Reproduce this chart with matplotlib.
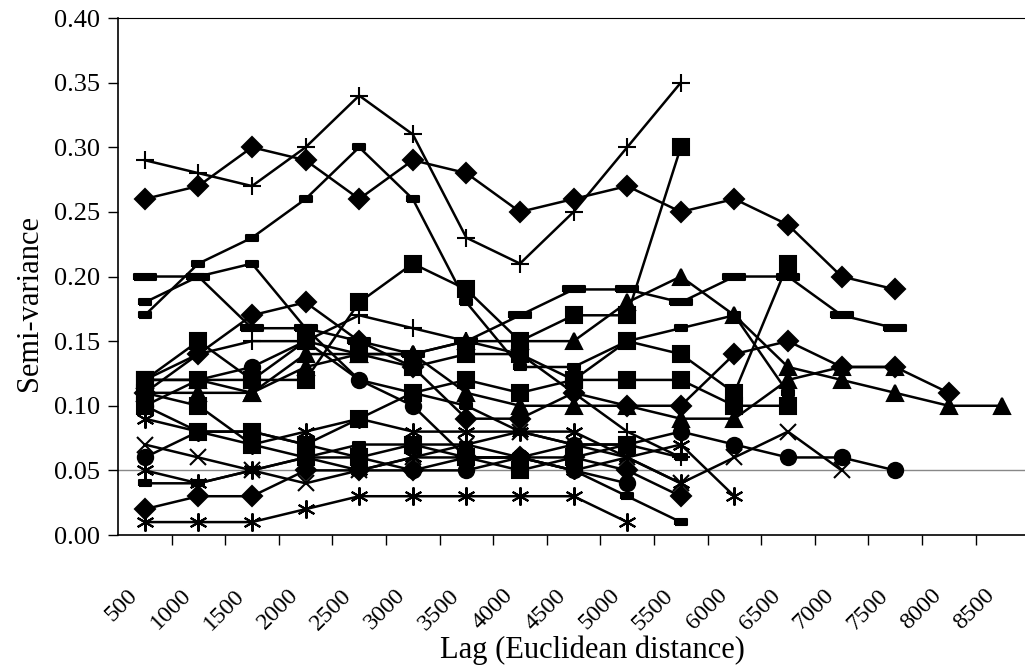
import numpy as np
import matplotlib
matplotlib.use("Agg")
import matplotlib.pyplot as plt
import matplotlib.transforms as mtransforms
from matplotlib.ticker import FixedLocator, FormatStrFormatter

plt.rcParams['font.family'] = ['Liberation Serif', 'DejaVu Serif']

lags = [500, 1000, 1500, 2000, 2500, 3000, 3500, 4000, 4500,
        5000, 5500, 6000, 6500, 7000, 7500, 8000, 8500]

# semi-variance per lag class, one list per sample set
plus_a = [0.29, 0.28, 0.27, 0.30, 0.34, 0.31, 0.23, 0.21, 0.25, 0.30, 0.35]
plus_b = [0.12, 0.14, 0.15, 0.15, 0.17, 0.16, 0.15, 0.14, 0.11, 0.08, 0.06]
diamond_a = [0.26, 0.27, 0.30, 0.29, 0.26, 0.29, 0.28, 0.25, 0.26, 0.27, 0.25,
             0.26, 0.24, 0.20, 0.19]
diamond_b = [0.02, 0.03, 0.03, 0.05, 0.05, 0.05, 0.06, 0.06, 0.06, 0.05, 0.03]
diamond_c = [0.11, 0.14, 0.17, 0.18, 0.15, 0.13, 0.09, 0.09, 0.11, 0.10, 0.10,
             0.14, 0.15, 0.13, 0.13, 0.11]
longdash_a = [0.20, 0.20, 0.16, 0.16, 0.15, 0.14, 0.15, 0.17, 0.19, 0.19, 0.18,
              0.20, 0.20, 0.17, 0.16]
dash_a = [0.17, 0.21, 0.23, 0.26, 0.30, 0.26, 0.18, 0.13, 0.13, 0.15, 0.16,
          0.17, 0.11]
dash_b = [0.18, 0.20, 0.21, 0.16, 0.12, 0.11, 0.10, 0.08, 0.07, 0.07, 0.06]
dash_c = [0.04, 0.04, 0.05, 0.06, 0.07, 0.07, 0.07, 0.06, 0.05, 0.03, 0.01]
square_a = [0.12, 0.12, 0.12, 0.12, 0.18, 0.21, 0.19, 0.15, 0.17, 0.17, 0.30]
square_b = [0.12, 0.15, 0.12, 0.15, 0.14, 0.13, 0.14, 0.14, 0.12, 0.15, 0.14,
            0.11, 0.21]
square_c = [0.10, 0.08, 0.08, 0.07, 0.09, 0.11, 0.12, 0.11, 0.12, 0.12, 0.12,
            0.10, 0.10]
square_d = [0.11, 0.10, 0.07, 0.06, 0.06, 0.07, 0.06, 0.05, 0.06, 0.07]
triangle_a = [0.11, 0.11, 0.11, 0.14, 0.14, 0.14, 0.15, 0.15, 0.15, 0.18, 0.20,
              0.17, 0.13, 0.12, 0.11, 0.10, 0.10]
triangle_b = [0.12, 0.12, 0.11, 0.13, 0.14, 0.14, 0.11, 0.10, 0.10, 0.10, 0.09,
              0.09, 0.12, 0.13, 0.13]
circle_a = [0.06, 0.08, 0.08, 0.07, 0.06, 0.05, 0.05, 0.06, 0.07, 0.07, 0.08,
            0.07, 0.06, 0.06, 0.05]
circle_b = [0.10, 0.12, 0.13, 0.15, 0.12, 0.10, 0.06, 0.06, 0.05, 0.04]
cross_a = [0.07, 0.06, 0.05, 0.04, 0.05, 0.06, 0.07, 0.08, 0.07, 0.06, 0.04,
           0.06, 0.08, 0.05]
star_a = [0.01, 0.01, 0.01, 0.02, 0.03, 0.03, 0.03, 0.03, 0.03, 0.01]
star_b = [0.09, 0.08, 0.07, 0.08, 0.09, 0.08, 0.08, 0.08, 0.08, 0.06, 0.07, 0.03]
star_c = [0.05, 0.04, 0.05, 0.06, 0.05, 0.06, 0.06, 0.06, 0.05, 0.06, 0.04]

short_bar = [(-1, -0.45), (1, -0.45), (1, 0.45), (-1, 0.45), (-1, -0.45)]
long_bar = [(-1, -0.25), (1, -0.25), (1, 0.25), (-1, 0.25), (-1, -0.25)]
asterisk = (6, 2, 0)

series = [
    (plus_a, '+', 13), (plus_b, '+', 13),
    (diamond_a, 'D', 10), (diamond_b, 'D', 10), (diamond_c, 'D', 10),
    (longdash_a, long_bar, 16), (dash_a, short_bar, 9),
    (dash_b, short_bar, 9), (dash_c, short_bar, 9),
    (square_a, 's', 11), (square_b, 's', 11), (square_c, 's', 11), (square_d, 's', 11),
    (triangle_a, '^', 11), (triangle_b, '^', 11),
    (circle_a, 'o', 11), (circle_b, 'o', 11),
    (cross_a, 'x', 11),
    (star_a, asterisk, 13), (star_b, asterisk, 13), (star_c, asterisk, 13),
]

fig = plt.figure(figsize=(10.25, 6.68), dpi=100)
ax = fig.add_axes([0.1151, 0.1991, 0.889, 0.7739])

for vals, mk, ms in series:
    xs = np.arange(len(vals))
    ax.plot(xs, vals, color='black', lw=1.8, marker=mk, ms=ms,
            markeredgewidth=1.5, markerfacecolor='black',
            markeredgecolor='black', clip_on=False, zorder=3)

ax.axhline(0.05, color='#888888', lw=1.0, zorder=1)

ax.set_xlim(-0.5, len(lags) - 0.5)
ax.set_ylim(0, 0.40)

ax.set_yticks(np.arange(0, 0.401, 0.05))
ax.yaxis.set_major_formatter(FormatStrFormatter('%.2f'))
ax.tick_params(axis='y', direction='out', length=7, width=1, labelsize=19, pad=6)

ax.set_xticks(np.arange(len(lags)))
ax.set_xticklabels([str(v) for v in lags], rotation=45, ha='right',
                   rotation_mode='anchor', fontsize=17.5)
ax.xaxis.set_minor_locator(FixedLocator(np.arange(0.5, len(lags) - 0.5, 1)))
ax.tick_params(axis='x', which='major', length=0, pad=36)
ax.tick_params(axis='x', which='minor', direction='out', length=7, width=1)
shift = mtransforms.ScaledTranslation(-18 / 100, 0, fig.dpi_scale_trans)
for lbl in ax.get_xticklabels():
    lbl.set_transform(lbl.get_transform() + shift)

ax.spines['right'].set_visible(False)
ax.spines['top'].set_linewidth(0.8)
ax.spines['left'].set_linewidth(1.2)
ax.spines['bottom'].set_linewidth(1.2)

fig.text(30 / 1025, 1 - 303 / 668, 'Semi-variance', fontsize=22,
         rotation=90, ha='center', va='center')
fig.text(592 / 1025, 1 - 650 / 668, 'Lag (Euclidean distance)', fontsize=22,
         ha='center', va='center')

fig.savefig('out.png', dpi=100)
